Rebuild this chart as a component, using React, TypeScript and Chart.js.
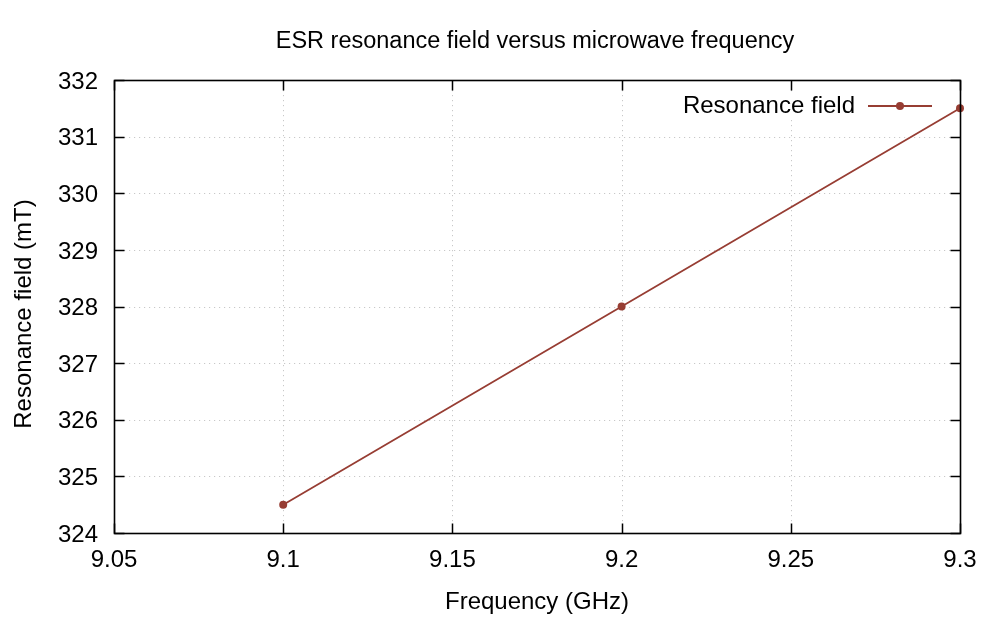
import React, { useEffect, useRef } from "react";
import { Chart, registerables } from "chart.js";

Chart.register(...registerables);

// Measured ESR resonance field at three microwave frequencies
const frequencies = [9.1, 9.2, 9.3];
const resonanceField = [324.5, 328.0, 331.5];

const seriesLabel = "Resonance field";
const chartTitle = "ESR resonance field versus microwave frequency";
const xTitle = "Frequency (GHz)";
const yTitle = "Resonance field (mT)";

const xMin = 9.05;
const xMax = 9.3;
const xStep = 0.05;
const yMin = 324;
const yMax = 332;
const yStep = 1;

const LINE_COLOR = "#973d33";
const FONT = "Liberation Sans, Arial, Helvetica, sans-serif";
const FONT_SIZE = 24;

// Draws the gnuplot-style frame: dotted grid, boxed border, inward ticks,
// an opaque key in the upper right, and the titles.
const framePlugin = {
  id: "gnuplotFrame",
  beforeDatasetsDraw(chart: any) {
    const { ctx, chartArea: a, scales } = chart;
    const xs = scales.x;
    const ys = scales.y;
    ctx.save();
    ctx.strokeStyle = "#c8c8c8";
    ctx.lineWidth = 1;
    ctx.setLineDash([1.2, 3.8]);
    xs.ticks.forEach((t: any) => {
      const px = Math.round(xs.getPixelForValue(t.value)) + 0.5;
      if (px <= a.left + 1 || px >= a.right - 1) return;
      ctx.beginPath();
      ctx.moveTo(px, a.top);
      ctx.lineTo(px, a.bottom);
      ctx.stroke();
    });
    ys.ticks.forEach((t: any) => {
      const py = Math.round(ys.getPixelForValue(t.value)) + 0.5;
      if (py <= a.top + 1 || py >= a.bottom - 1) return;
      ctx.beginPath();
      ctx.moveTo(a.left, py);
      ctx.lineTo(a.right, py);
      ctx.stroke();
    });
    ctx.setLineDash([]);

    // key box (opaque, hides grid behind it)
    const textRight = 855;
    const keyY = 106;
    ctx.font = `${FONT_SIZE}px ${FONT}`;
    const tw = ctx.measureText(seriesLabel).width;
    ctx.fillStyle = "#ffffff";
    ctx.fillRect(textRight - tw - 8, keyY - 14, 945 - (textRight - tw - 8), 28);
    ctx.fillStyle = "#000000";
    ctx.textAlign = "right";
    ctx.textBaseline = "middle";
    ctx.fillText(seriesLabel, textRight, keyY);
    ctx.strokeStyle = LINE_COLOR;
    ctx.lineWidth = 1.8;
    ctx.beginPath();
    ctx.moveTo(868, keyY);
    ctx.lineTo(932, keyY);
    ctx.stroke();
    ctx.fillStyle = LINE_COLOR;
    ctx.beginPath();
    ctx.arc(900, keyY, 4, 0, Math.PI * 2);
    ctx.fill();
    ctx.restore();
  },
  afterDatasetsDraw(chart: any) {
    const { ctx, chartArea: a, scales } = chart;
    const xs = scales.x;
    const ys = scales.y;
    const L = Math.round(a.left) + 0.5;
    const R = Math.round(a.right) + 0.5;
    const T = Math.round(a.top) + 0.5;
    const B = Math.round(a.bottom) + 0.5;
    const tick = 10;
    ctx.save();
    ctx.strokeStyle = "#000000";
    ctx.lineWidth = 1.6;
    ctx.setLineDash([]);
    ctx.strokeRect(L, T, R - L, B - T);
    ctx.lineWidth = 1.5;
    xs.ticks.forEach((t: any) => {
      const px = Math.round(xs.getPixelForValue(t.value)) + 0.5;
      ctx.beginPath();
      ctx.moveTo(px, B);
      ctx.lineTo(px, B - tick);
      ctx.moveTo(px, T);
      ctx.lineTo(px, T + tick);
      ctx.stroke();
    });
    ys.ticks.forEach((t: any) => {
      const py = Math.round(ys.getPixelForValue(t.value)) + 0.5;
      ctx.beginPath();
      ctx.moveTo(L, py);
      ctx.lineTo(L + tick, py);
      ctx.moveTo(R, py);
      ctx.lineTo(R - tick, py);
      ctx.stroke();
    });

    ctx.fillStyle = "#000000";
    ctx.font = `${FONT_SIZE - 0.5}px ${FONT}`;
    ctx.textAlign = "center";
    ctx.textBaseline = "middle";
    ctx.fillText(chartTitle, 535, 42);
    ctx.font = `${FONT_SIZE}px ${FONT}`;
    ctx.fillText(xTitle, 537, 602);
    ctx.translate(24, 314);
    ctx.rotate(-Math.PI / 2);
    ctx.fillText(yTitle, 0, 0);
    ctx.restore();
  },
};

export default function App() {
  const canvasRef = useRef<HTMLCanvasElement | null>(null);

  useEffect(() => {
    const canvas = canvasRef.current;
    if (!canvas) return;
    const points = frequencies.map((f, i) => ({ x: f, y: resonanceField[i] }));
    const chart = new Chart(canvas, {
      type: "line",
      data: {
        datasets: [
          {
            label: seriesLabel,
            data: points,
            borderColor: LINE_COLOR,
            backgroundColor: LINE_COLOR,
            borderWidth: 1.8,
            pointRadius: 4,
            pointBorderWidth: 0,
            pointBackgroundColor: LINE_COLOR,
            tension: 0,
            clip: false,
          },
        ],
      },
      options: {
        responsive: false,
        animation: false,
        devicePixelRatio: 1,
        layout: { padding: { top: 80, right: 40, left: 0, bottom: 0 } },
        plugins: {
          legend: { display: false },
          title: { display: false },
          tooltip: { enabled: false },
        },
        scales: {
          x: {
            type: "linear",
            min: xMin,
            max: xMax,
            grid: { display: false, drawTicks: false },
            border: { display: false },
            afterFit: (s: any) => {
              s.height = 87;
            },
            ticks: {
              stepSize: xStep,
              padding: 13,
              color: "#000000",
              font: { family: FONT, size: FONT_SIZE },
              maxRotation: 0,
              autoSkip: false,
              callback: (v: any) => String(parseFloat(Number(v).toFixed(2))),
            },
          },
          y: {
            type: "linear",
            min: yMin,
            max: yMax,
            grid: { display: false, drawTicks: false },
            border: { display: false },
            afterFit: (s: any) => {
              s.width = 114;
            },
            ticks: {
              stepSize: yStep,
              padding: 16,
              labelOffset: 2,
              color: "#000000",
              font: { family: FONT, size: FONT_SIZE },
              callback: (v: any) => String(Math.round(Number(v))),
            },
          },
        },
      },
      plugins: [framePlugin],
    });
    return () => chart.destroy();
  }, []);

  return (
    <div style={{ position: "fixed", left: 0, top: 0, width: 1000, height: 620, background: "#ffffff" }}>
      <canvas ref={canvasRef} width={1000} height={620} />
    </div>
  );
}
